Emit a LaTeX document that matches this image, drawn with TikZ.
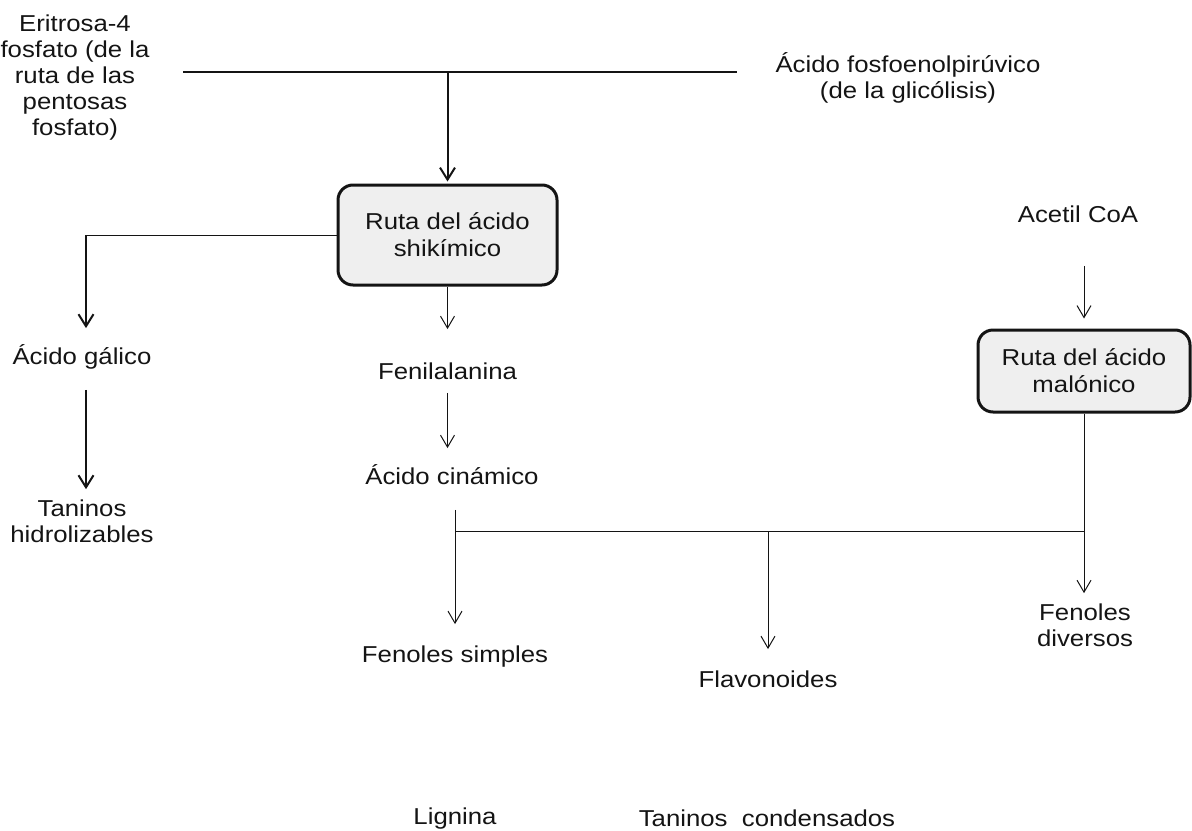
\documentclass[tikz,border=0pt]{standalone}
\usepackage{fontspec}
\setmainfont[FakeStretch=1.12]{Liberation Sans}
\usetikzlibrary{arrows.meta, positioning}
\definecolor{rutagris}{RGB}{239, 239, 239}
\definecolor{tinta}{RGB}{20, 20, 20}

\begin{document}
\begin{tikzpicture}[x=0.5pt, y=-0.5pt,
  lbl/.style={font=\fontsize{11.5}{13}\selectfont, text=tinta, align=center, inner sep=0pt},
  uno/.style={lbl, text height=9pt, text depth=2.5pt},
  ruta/.style={lbl, draw=tinta, line width=1.5pt, rounded corners=7.5pt, fill=rutagris, font=\fontsize{11.5}{13.5}\selectfont},
  linea/.style={draw=tinta, line width=0.5pt},
  gruesa/.style={draw=tinta, line width=1pt, -{Straight Barb[length=6pt, width=7.5pt]}},
  fina/.style={draw=tinta, line width=0.5pt, -{Straight Barb[length=6pt, width=7pt]}}]
  \useasboundingbox (0, 0) rectangle (1192, 830);

  % Precursores
  \node[lbl] (eritrosa) at (75, 78) {Eritrosa-4\\fosfato (de la\\ruta de las\\pentosas\\fosfato)};
  \node[lbl] (fosfo) at (908, 78) {Ácido fosfoenolpirúvico\\(de la glicólisis)};
  \coordinate (izq) at (183, 72);
  \coordinate (der) at (737, 72);
  \coordinate (cruce) at (447.5, 72);
  \draw[draw=tinta, line width=1pt] (izq) -- (der);

  % Ruta del acido shikimico
  \node[ruta, minimum width=109.5pt, minimum height=50pt] (shik) at (447.5, 235) {Ruta del ácido\\shikímico};
  \draw[gruesa, shorten >=1pt] (cruce) -- (shik.north);

  % Rama izquierda
  \node[uno] (galico) at (82, 358) {Ácido gálico};
  \node[lbl] (tanhid) at (82, 521) {Taninos\\hidrolizables};
  \coordinate (codo) at (86, 235);
  \draw[linea] (shik.west) -- (codo);
  \draw[gruesa, shorten >=9pt] (codo) -- (codo |- galico.north);
  \draw[gruesa, shorten <=10pt, shorten >=5pt] (galico.south -| codo) -- (tanhid.north -| codo);

  % Rama central
  \node[uno] (fenil) at (447.5, 373) {Fenilalanina};
  \node[uno] (cinam) at (452, 478) {Ácido cinámico};
  \draw[fina, shorten >=16pt] (shik.south) -- (shik.south |- fenil.north);
  \draw[fina, shorten <=4pt, shorten >=9pt] (fenil.south) -- (fenil.south |- cinam.north);

  % Ruta del acido malonico
  \node[uno] (acetil) at (1078, 216) {Acetil CoA};
  \node[ruta, minimum width=106pt, minimum height=41pt] (malon) at (1084, 371) {Ruta del ácido\\malónico};
  \draw[fina, shorten <=19pt, shorten >=5pt] (acetil.south -| malon.north) -- (malon.north);

  % Productos
  \node[uno] (fsimp) at (455, 656) {Fenoles simples};
  \node[uno] (flav) at (768, 681) {Flavonoides};
  \node[lbl] (fdiv) at (1085, 625) {Fenoles\\diversos};
  \node[uno] (lignina) at (455, 818) {Lignina};
  \node[uno] (tancond) at (767, 820) {Taninos\ \ condensados};
  \coordinate (rama) at (455, 531);
  \coordinate (rama2) at (768, 531);
  \coordinate (rama3) at (malon.south |- rama);
  \draw[fina, shorten <=10pt, shorten >=10pt] (cinam.south -| rama) -- (fsimp.north -| rama);
  \draw[linea] (rama) -- (rama3);
  \draw[linea] (malon.south) -- (rama3);
  \draw[fina, shorten >=10pt] (rama2) -- (rama2 |- flav.north);
  \draw[fina, shorten >=5pt] (rama3) -- (rama3 |- fdiv.north);
\end{tikzpicture}
\end{document}
